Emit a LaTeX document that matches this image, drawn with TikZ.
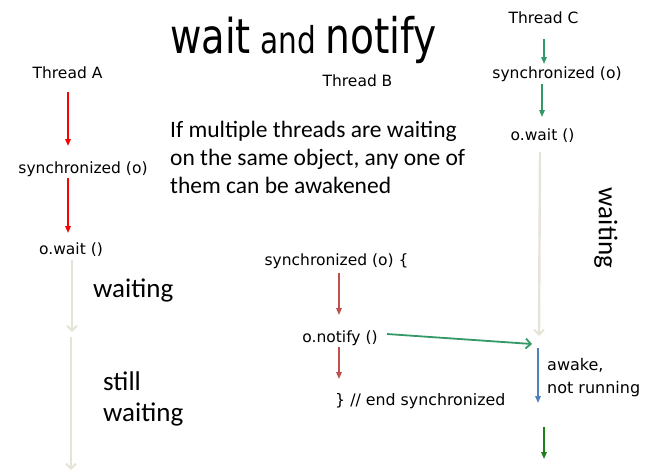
\documentclass[tikz,border=0pt]{standalone}
\usepackage{fontspec}
\usetikzlibrary{arrows.meta}
\setmainfont{DejaVu Sans}
\newfontfamily\calfont{Carlito}
\newfontfamily\titlefont[FakeStretch=0.8]{DejaVu Sans}
\definecolor{redA}{HTML}{FF0000}
\definecolor{redB}{HTML}{C0504D}
\definecolor{greenC}{HTML}{339966}
\definecolor{lightw}{HTML}{E6E4D8}
\definecolor{blueA}{HTML}{4F81BD}
\definecolor{dgreen}{HTML}{1A801A}
\begin{document}
\begin{tikzpicture}[x=1pt,y=-1pt,
  lbl/.style={inner sep=0pt, anchor=base, font=\fontsize{15.5}{18}\selectfont},
  lblw/.style={lbl, anchor=base west},
  big/.style={inner sep=0pt, anchor=base west, font=\calfont\fontsize{27}{32}\selectfont},
  para/.style={inner sep=0pt, anchor=base west, font=\calfont\fontsize{23.5}{28}\selectfont},
  flow/.style={line width=1.6pt, -{Triangle[length=7pt,width=5.5pt]}},
  waitline/.style={line width=2.4pt, draw=lightw, -{Straight Barb[length=5pt,width=10pt,line width=2pt]}},
  notifyline/.style={line width=1.8pt, draw=greenC, -{Straight Barb[length=5pt,width=10pt,line width=1.8pt]}}
]
\useasboundingbox (0,0) rectangle (660,469);

% title
\node[inner sep=0pt, anchor=base west] (title) at (170,53)
  {\titlefont\fontsize{48}{50}\selectfont wait\fontsize{37}{40}\selectfont{} and \fontsize{49}{50}\selectfont notify};

% Thread A
\node[lbl] (tA) at (67.5,78) {Thread A};
\node[lbl] (sA) at (83,173) {synchronized (o)};
\node[lbl] (wA) at (71,254) {o.wait ()};
\node[big] (waitA) at (93,297) {waiting};
\node[big] (stillA) at (103,390) {still};
\node[big] (stillB) at (103,421) {waiting};
\coordinate (a1s) at (68,92);  \coordinate (a1e) at (68,146);
\coordinate (a2s) at (68,178); \coordinate (a2e) at (68,233);
\coordinate (la1s) at (72,260); \coordinate (la1e) at (72,332);
\coordinate (la2s) at (71,337); \coordinate (la2e) at (71,470);
\draw[flow, draw=redA, fill=redA] (a1s) -- (a1e);
\draw[flow, draw=redA, fill=redA] (a2s) -- (a2e);
\draw[waitline] (la1s) -- (la1e);
\draw[waitline] (la2s) -- (la2e);

% Thread B
\node[lbl] (tB) at (357.5,86) {Thread B};
\node[para] (p1) at (170,137) {If multiple threads are waiting};
\node[para] (p2) at (170,165) {on the same object, any one of};
\node[para] (p3) at (170,193) {them can be awakened};
\node[lbl] (sB) at (336.5,265) {synchronized (o) \{};
\node[lbl] (nB) at (340,342) {o.notify ()};
\node[lblw, font=\fontsize{15.8}{18}\selectfont] (eB) at (335,405) {\} // end synchronized};
\coordinate (b1s) at (339,273); \coordinate (b1e) at (339,315);
\coordinate (b2s) at (339,347); \coordinate (b2e) at (339,379);
\coordinate (ns) at (387,334); \coordinate (ne) at (532,344);
\draw[flow, draw=redB, fill=redB] (b1s) -- (b1e);
\draw[flow, draw=redB, fill=redB] (b2s) -- (b2e);
\draw[notifyline] (ns) -- (ne);

% Thread C
\node[lbl] (tC) at (543.5,23) {Thread C};
\node[lbl] (sC) at (557,78) {synchronized (o)};
\node[lbl] (wC) at (542.5,140) {o.wait ()};
\node[inner sep=0pt, rotate=-90, font=\calfont\fontsize{27}{32}\selectfont] (waitC) at (606,228) {waiting};
\node[lblw, font=\fontsize{16}{19}\selectfont] (aw1) at (547,370) {awake,};
\node[lblw, font=\fontsize{16}{19}\selectfont] (aw2) at (547,393) {not running};
\coordinate (c1s) at (544,39); \coordinate (c1e) at (544,64);
\coordinate (c2s) at (542,84); \coordinate (c2e) at (542,117);
\coordinate (lcs) at (540,152); \coordinate (lce) at (539,336);
\coordinate (bls) at (538,348); \coordinate (ble) at (538,403);
\coordinate (dgs) at (544,427); \coordinate (dge) at (544,459);
\draw[flow, line width=1.4pt, draw=greenC, fill=greenC] (c1s) -- (c1e);
\draw[flow, line width=1.4pt, draw=greenC, fill=greenC] (c2s) -- (c2e);
\draw[waitline] (lcs) -- (lce);
\draw[flow, draw=blueA, fill=blueA] (bls) -- (ble);
\draw[flow, draw=dgreen, fill=dgreen] (dgs) -- (dge);
\end{tikzpicture}
\end{document}
